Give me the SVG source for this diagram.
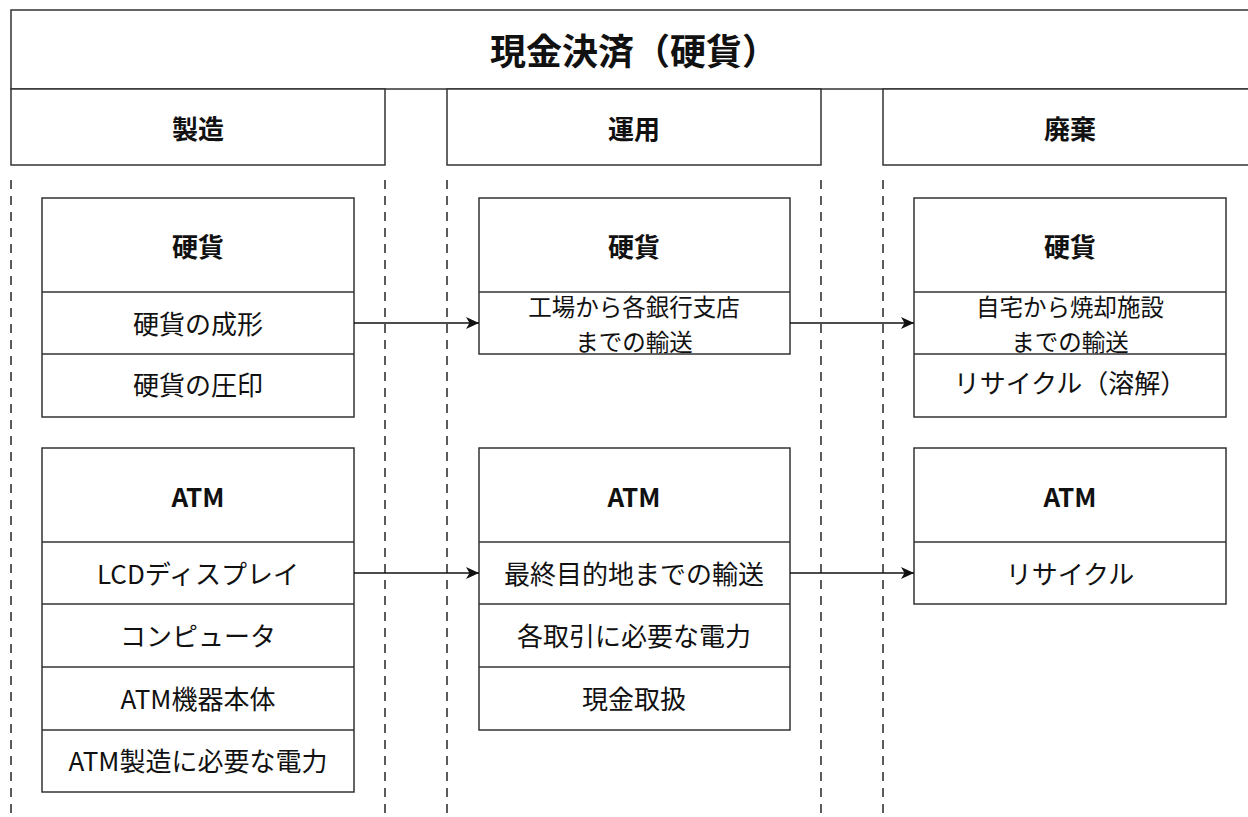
<svg xmlns="http://www.w3.org/2000/svg" width="1248" height="817" viewBox="0 0 1248 817">
<style>
.box{fill:#fff;stroke:#333;stroke-width:1.5}
.div{stroke:#333;stroke-width:1.5;fill:none}
.dash{stroke:#333;stroke-width:1.6;stroke-dasharray:9 7;fill:none}
.conn{stroke:#111;stroke-width:1.5;fill:none}
text{font-family:"Noto Sans CJK JP","Noto Sans",sans-serif;fill:#111;text-anchor:middle;dominant-baseline:central}
.t{font-size:36px;font-weight:bold}
.h{font-size:26px;font-weight:bold}
.r{font-size:26px}
.r2{font-size:23.5px}
</style>
<defs>
<marker id="arr" markerWidth="14" markerHeight="12" refX="13" refY="6" orient="auto" markerUnits="userSpaceOnUse">
<path d="M0,0 L13,6 L0,12 L3.5,6 Z" fill="#111"/>
</marker>
</defs>
<rect width="1248" height="817" fill="#fff"/>
<g id="lanes">
<line class="dash" x1="11" y1="180" x2="11" y2="817"/>
<line class="dash" x1="385" y1="180" x2="385" y2="817"/>
<line class="dash" x1="447" y1="180" x2="447" y2="817"/>
<line class="dash" x1="821" y1="180" x2="821" y2="817"/>
<line class="dash" x1="883" y1="180" x2="883" y2="817"/>
</g>
<g id="title">
<rect class="box" x="11" y="10" width="1250" height="79"/>
<text class="t" x="634" y="49">現金決済（硬貨）</text>
</g>
<g id="lane-seizo">
<rect class="box" x="11" y="89" width="374" height="76"/>
<text class="h" x="198" y="127">製造</text>
</g>
<g id="lane-unyo">
<rect class="box" x="447" y="89" width="374" height="76"/>
<text class="h" x="634" y="127">運用</text>
</g>
<g id="lane-haiki">
<rect class="box" x="883" y="89" width="380" height="76"/>
<text class="h" x="1070" y="127">廃棄</text>
</g>
<g id="coin-seizo">
<rect class="box" x="42" y="198" width="312" height="219"/>
<line class="div" x1="42" y1="292" x2="354" y2="292"/>
<line class="div" x1="42" y1="354" x2="354" y2="354"/>
<text class="h" x="198" y="245">硬貨</text>
<text class="r" x="198" y="322">硬貨の成形</text>
<text class="r" x="198" y="383">硬貨の圧印</text>
</g>
<g id="coin-unyo">
<rect class="box" x="479" y="198" width="311" height="156"/>
<line class="div" x1="479" y1="292" x2="790" y2="292"/>
<text class="h" x="634" y="245">硬貨</text>
<text class="r2"><tspan x="634" y="306">工場から各銀行支店</tspan><tspan x="634" y="340.5">までの輸送</tspan></text>
</g>
<g id="coin-haiki">
<rect class="box" x="914" y="198" width="312" height="219"/>
<line class="div" x1="914" y1="292" x2="1226" y2="292"/>
<line class="div" x1="914" y1="354" x2="1226" y2="354"/>
<text class="h" x="1070" y="245">硬貨</text>
<text class="r2"><tspan x="1070" y="306">自宅から焼却施設</tspan><tspan x="1070" y="340.5">までの輸送</tspan></text>
<text class="r" x="1070" y="381">リサイクル（溶解）</text>
</g>
<g id="atm-seizo">
<rect class="box" x="42" y="448" width="312" height="344"/>
<line class="div" x1="42" y1="542" x2="354" y2="542"/>
<line class="div" x1="42" y1="604" x2="354" y2="604"/>
<line class="div" x1="42" y1="667" x2="354" y2="667"/>
<line class="div" x1="42" y1="730" x2="354" y2="730"/>
<text class="h" x="198" y="495">ATM</text>
<text class="r" x="198" y="572">LCDディスプレイ</text>
<text class="r" x="198" y="634">コンピュータ</text>
<text class="r" x="198" y="697">ATM機器本体</text>
<text class="r" x="198" y="759">ATM製造に必要な電力</text>
</g>
<g id="atm-unyo">
<rect class="box" x="479" y="448" width="311" height="282"/>
<line class="div" x1="479" y1="542" x2="790" y2="542"/>
<line class="div" x1="479" y1="604" x2="790" y2="604"/>
<line class="div" x1="479" y1="667" x2="790" y2="667"/>
<text class="h" x="634" y="495">ATM</text>
<text class="r" x="634" y="572">最終目的地までの輸送</text>
<text class="r" x="634" y="634">各取引に必要な電力</text>
<text class="r" x="634" y="697">現金取扱</text>
</g>
<g id="atm-haiki">
<rect class="box" x="914" y="448" width="312" height="156"/>
<line class="div" x1="914" y1="542" x2="1226" y2="542"/>
<text class="h" x="1070" y="495">ATM</text>
<text class="r" x="1070" y="572">リサイクル</text>
</g>
<g id="connectors">
<line class="conn" x1="354" y1="323" x2="479" y2="323" marker-end="url(#arr)"/>
<line class="conn" x1="790" y1="323" x2="914" y2="323" marker-end="url(#arr)"/>
<line class="conn" x1="354" y1="573" x2="479" y2="573" marker-end="url(#arr)"/>
<line class="conn" x1="790" y1="573" x2="914" y2="573" marker-end="url(#arr)"/>
</g>
</svg>
